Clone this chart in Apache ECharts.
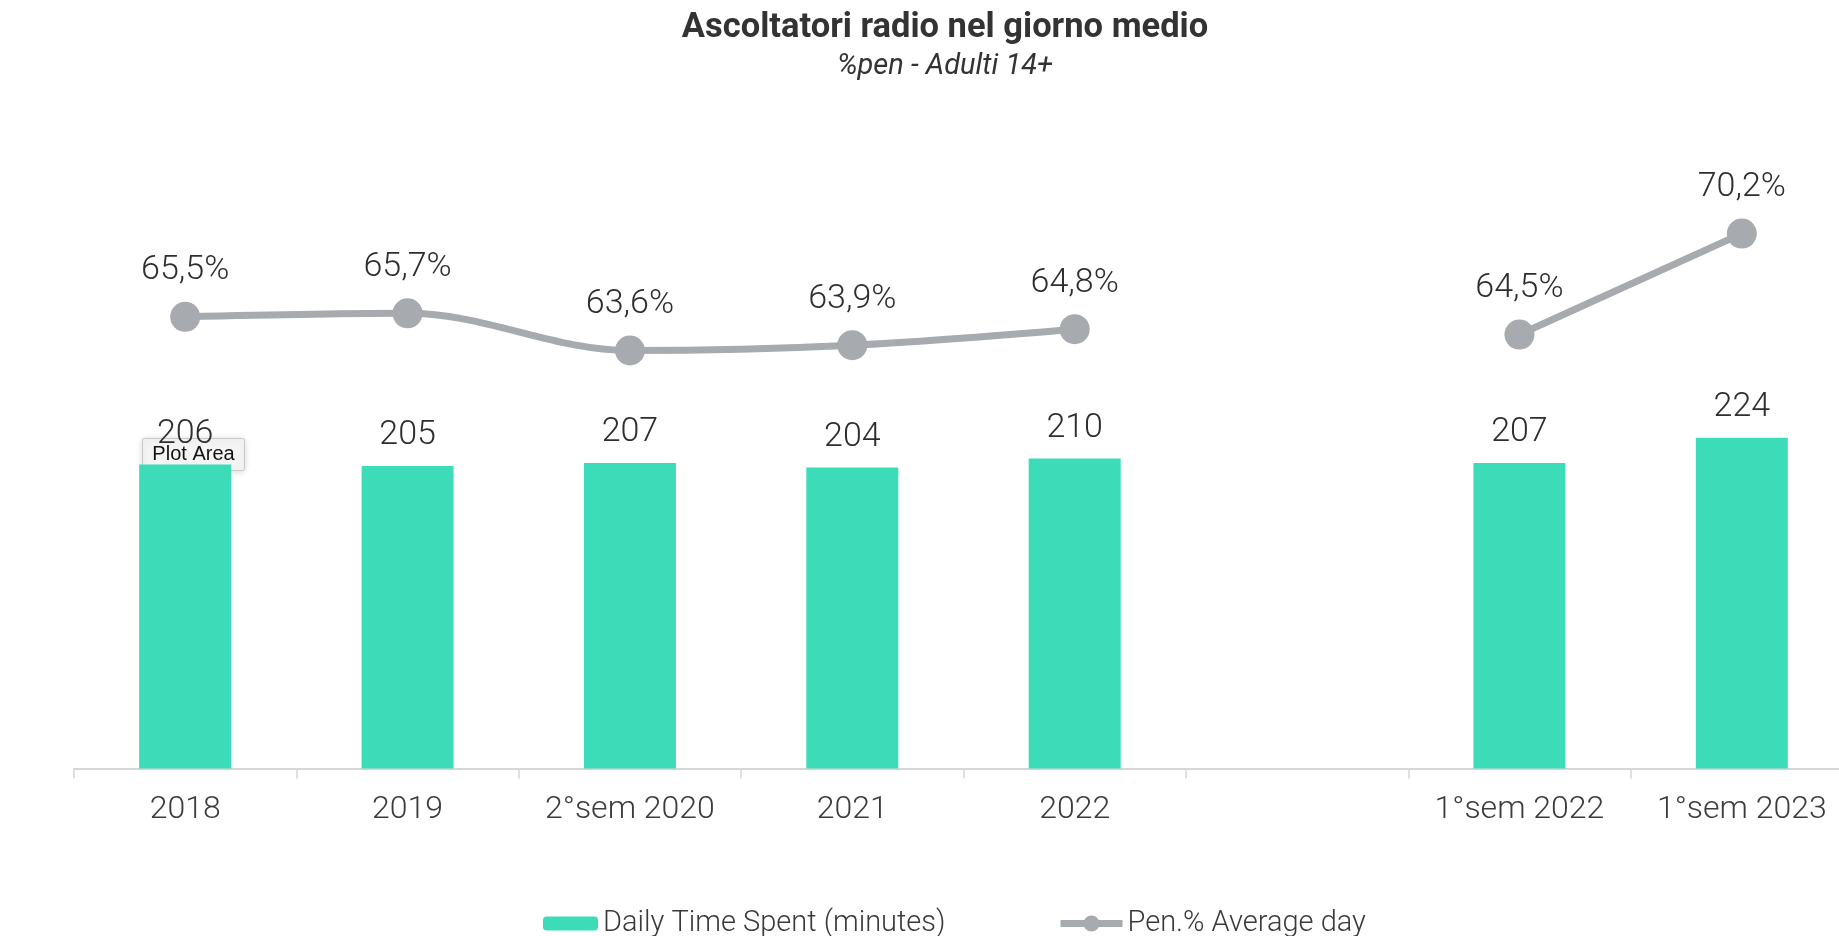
<!DOCTYPE html>
<html>
<head>
<meta charset="utf-8">
<script src="https://cdn.jsdelivr.net/npm/echarts@6/dist/echarts.min.js"></script>
<style>
html,body{margin:0;padding:0;background:#ffffff;overflow:hidden;}
#c{width:1870px;height:936px;}
</style>
</head>
<body>
<div id="c"></div>
<script>
const categories = ['2018', '2019', '2°sem 2020', '2021', '2022', '', '1°sem 2022', '1°sem 2023'];
const timeSpent = [206, 205, 207, 204, 210, null, 207, 224];
const penetration = [65.5, 65.7, 63.6, 63.9, 64.8, null, 64.5, 70.2];
const titleText = 'Ascoltatori radio nel giorno medio';
const subtitleText = '%pen - Adulti 14+';
const seriesNames = ['Daily Time Spent (minutes)', 'Pen.% Average day'];

const FONT = 'Roboto, "Noto Sans", sans-serif';
const chart = echarts.init(document.getElementById('c'), null, {renderer: 'canvas'});
chart.setOption({
  backgroundColor: '#ffffff',
  animation: false,
  title: [
    {text: titleText, left: 940, top: 6, textAlign: 'center',
     textStyle: {fontFamily: FONT, fontSize: 34.5, fontWeight: 'bold', color: '#333333'}},
    {text: subtitleText, left: 940, top: 47, textAlign: 'center',
     textStyle: {fontFamily: FONT, fontSize: 29, fontStyle: 'italic', fontWeight: 'normal', color: '#333333'}}
  ],
  legend: [
    {
      top: 904, left: 538,
      itemWidth: 55, itemHeight: 14,
      textStyle: {fontFamily: FONT, fontSize: 29, fontWeight: 300, color: '#3a3a3a'},
      data: [seriesNames[0]]
    },
    {
      top: 904, left: 1052,
      itemWidth: 62, itemHeight: 20,
      lineStyle: {width: 7},
      textStyle: {fontFamily: FONT, fontSize: 29, fontWeight: 300, color: '#3a3a3a'},
      data: [seriesNames[1]]
    }
  ],
  grid: {left: 74, width: 1779, top: 60, height: 708.5, containLabel: false},
  xAxis: {
    type: 'category', data: categories, boundaryGap: true,
    axisLine: {lineStyle: {color: '#d6d6d6', width: 2}},
    axisTick: {show: true, alignWithLabel: false, length: 10, lineStyle: {color: '#d6d6d6', width: 1.5}},
    axisLabel: {fontFamily: FONT, fontSize: 32, fontWeight: 300, color: '#3c3c3c', margin: 25, interval: 0}
  },
  yAxis: [
    {type: 'value', min: 0, max: 480, show: false, splitLine: {show: false}},
    {type: 'value', min: 40, max: 80, show: false, splitLine: {show: false}}
  ],
  series: [
    {
      name: seriesNames[0], type: 'bar', data: timeSpent, barWidth: 92, yAxisIndex: 0,
      itemStyle: {color: '#3ddcb9'},
      label: {show: true, position: 'top', distance: 13, fontFamily: FONT, fontSize: 34, fontWeight: 300, color: '#2e2e2e'}
    },
    {
      name: seriesNames[1], type: 'line', data: penetration, yAxisIndex: 1,
      smooth: 0.35, connectNulls: false,
      symbol: 'circle', symbolSize: 30,
      lineStyle: {color: '#a7aaae', width: 7},
      itemStyle: {color: '#a7aaae'},
      z: 5,
      label: {show: true, position: 'top', distance: 14, fontFamily: FONT, fontSize: 34, fontWeight: 300, color: '#2e2e2e',
        formatter: p => p.value == null ? '' : String(p.value.toFixed(1)).replace('.', ',') + '%'}
    }
  ],
  graphic: [
    {type: 'group', left: 142, top: 438, z: 100, children: [
      {type: 'rect', shape: {x: 0, y: 0, width: 102, height: 32, r: 2},
       style: {fill: '#f4f4f4', stroke: '#c9c9c9', lineWidth: 1, shadowBlur: 6, shadowColor: 'rgba(0,0,0,0.15)', shadowOffsetY: 1}},
      {type: 'text', x: 51, y: 16, style: {text: 'Plot Area', fontFamily: '"Liberation Sans", Arial, sans-serif', fontSize: 20, fill: '#111', align: 'center', verticalAlign: 'middle'}}
    ]}
  ]
});
</script>
</body>
</html>
